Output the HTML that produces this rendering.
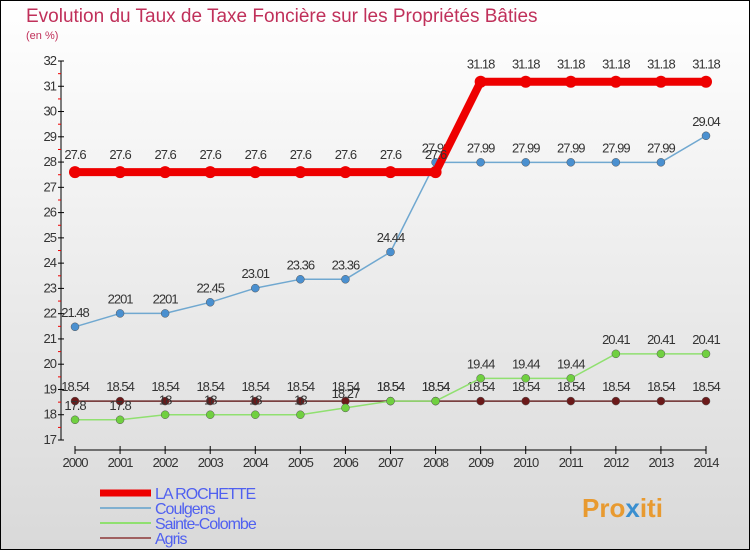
<!DOCTYPE html>
<html><head><meta charset="utf-8"><style>
body{margin:0;width:750px;height:550px;overflow:hidden;font-family:"Liberation Sans",sans-serif}
svg{display:block}
</style></head><body>
<svg id="c" width="750" height="550" xmlns="http://www.w3.org/2000/svg">
<defs><linearGradient id="bg" x1="0" y1="0" x2="0" y2="1"><stop offset="0" stop-color="#ffffff"/><stop offset="1" stop-color="#d9d9d9"/></linearGradient></defs>
<rect x="0.5" y="0.5" width="749" height="549" fill="url(#bg)" stroke="#000"/>
<text x="26" y="22" font-size="19" fill="#c0305a">Evolution du Taux de Taxe Foncière sur les Propriétés Bâties</text>
<text x="26" y="39" font-size="11" fill="#c0305a">(en %)</text>
<g id="axes"></g><g id="series"></g><g id="legend"></g>
<text x="582" y="517" font-size="26" font-weight="bold" fill="#e89a30">Pro<tspan fill="#3a8fd0">x</tspan>iti</text>
</svg>
<script>
const years=[2000,2001,2002,2003,2004,2005,2006,2007,2008,2009,2010,2011,2012,2013,2014];
const yTicks=[17,18,19,20,21,22,23,24,25,26,27,28,29,30,31,32];
const laRochette=[27.6,27.6,27.6,27.6,27.6,27.6,27.6,27.6,27.6,31.18,31.18,31.18,31.18,31.18,31.18];
const coulgens=[21.48,22.01,22.01,22.45,23.01,23.36,23.36,24.44,27.99,27.99,27.99,27.99,27.99,27.99,29.04];
const sainteColombe=[17.8,17.8,18,18,18,18,18.27,18.54,18.54,19.44,19.44,19.44,20.41,20.41,20.41];
const agris=[18.54,18.54,18.54,18.54,18.54,18.54,18.54,18.54,18.54,18.54,18.54,18.54,18.54,18.54,18.54];
const labelsCoulgens=["21.48","2201","2201","22.45","23.01","23.36","23.36","24.44","27.99","27.99","27.99","27.99","27.99","27.99","29.04"];
const NS="http://www.w3.org/2000/svg";
const xS=i=>75+i*(706-75)/(years.length-1);
const yS=v=>440-(v-17)*(440-61)/15;
function mk(t,a,p){const e=document.createElementNS(NS,t);for(const k in a)e.setAttribute(k,a[k]);p.appendChild(e);return e;}
const ax=document.getElementById('axes');
mk('line',{x1:61,y1:61,x2:61,y2:440,stroke:'#000'},ax);
mk('line',{x1:75,y1:450,x2:706,y2:450,stroke:'#000'},ax);
yTicks.forEach(v=>{const y=yS(v);
 mk('line',{x1:58,y1:y,x2:64,y2:y,stroke:'#000'},ax);
 if(v<32)mk('line',{x1:58,y1:y-12.6,x2:61,y2:y-12.6,stroke:'#e00'},ax);
 const t=mk('text',{x:56,y:y+4,'font-size':13,fill:'#333','text-anchor':'end','letter-spacing':'-1'},ax);t.textContent=v;
 });
years.forEach((yr,i)=>{const x=xS(i);
 mk('line',{x1:x,y1:446,x2:x,y2:454,stroke:'#000'},ax);
 const t=mk('text',{x:x,y:467,'font-size':13,fill:'#333','text-anchor':'middle','letter-spacing':'-1'},ax);t.textContent=yr;
 });
const sg=document.getElementById('series');
function series(name,data,color,w,r,fill,labels,dy){
 const g=mk('g',{},sg);
 mk('polyline',{points:data.map((v,i)=>xS(i)+','+yS(v)).join(' '),fill:'none',stroke:color,'stroke-width':w,'stroke-linejoin':'round'},g);
 data.forEach((v,i)=>{const c=mk('circle',{cx:xS(i),cy:yS(v),r:r,fill:fill,stroke:w>4?'none':'#555','stroke-width':0.5},g);
  
  const t=mk('text',{x:xS(i),y:yS(v)+dy,'font-size':13,fill:'#333','text-anchor':'middle','letter-spacing':'-1'},g);
  t.textContent=labels?labels[i]:String(v);});
}
series('agris',agris,'#6b2a2a',1.5,4,'#6b1a1a',null,-10);
series('sainte-colombe',sainteColombe,'#90e070',1.5,4,'#70d040',null,-10);
series('coulgens',coulgens,'#70a8d0',1.5,4,'#4a90d0',labelsCoulgens,-10);
series('la-rochette',laRochette,'#ee0000',8,6,'#ee0000',null,-13);
const lg=document.getElementById('legend');
[["LA ROCHETTE","#ee0000",7],["Coulgens","#80b0d0",2],["Sainte-Colombe","#90e070",2],["Agris","#a06060",2]].forEach((e,i)=>{
 const y=493+i*15;const g=mk('g',{},lg);
 mk('line',{x1:100,y1:y,x2:151,y2:y,stroke:e[1],'stroke-width':e[2]},g);
 const t=mk('text',{x:155,y:y+6,'font-size':16,fill:'#5060f0','letter-spacing':'-1'},g);t.textContent=e[0];});
</script>
</body></html>
